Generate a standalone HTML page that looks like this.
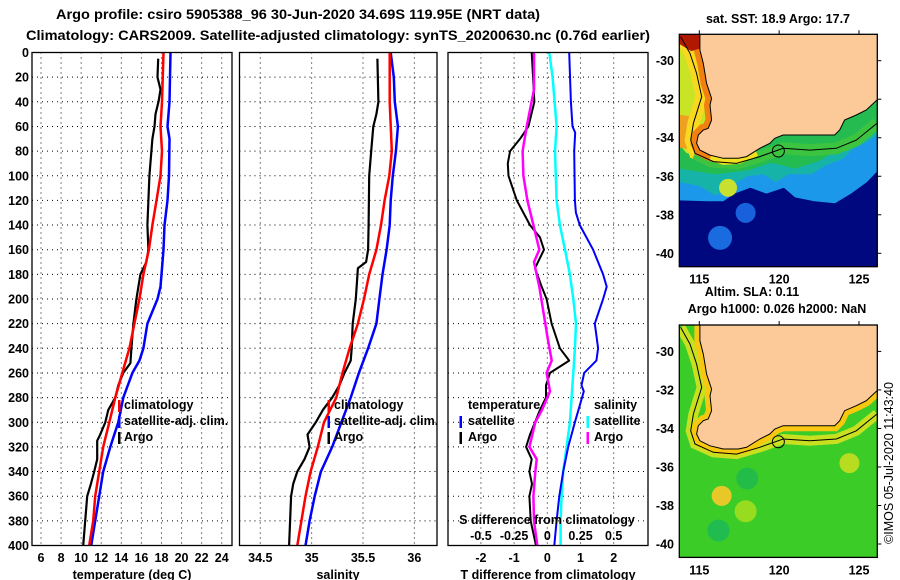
<!DOCTYPE html>
<html><head><meta charset="utf-8"><title>Argo profile</title>
<style>
html,body{margin:0;padding:0;background:#fff;}
svg{display:block;font-family:"Liberation Sans",Arial,sans-serif;}
.t{font-weight:bold;font-size:12.5px;fill:#000;}
.tt{font-weight:bold;font-size:14px;fill:#000;}
</style></head>
<body>
<svg id="fig" width="900" height="580" viewBox="0 0 900 580" xmlns="http://www.w3.org/2000/svg">
<text class="tt" x="56" y="19" textLength="484" lengthAdjust="spacingAndGlyphs">Argo profile: csiro 5905388_96 30-Jun-2020 34.69S 119.95E (NRT data)</text>
<text class="tt" x="26" y="40" textLength="624" lengthAdjust="spacingAndGlyphs">Climatology: CARS2009. Satellite-adjusted climatology: synTS_20200630.nc (0.76d earlier)</text>
<g id="plots"></g>
<g id="maps"></g>
<text x="0" y="0" transform="translate(893,463) rotate(-90)" text-anchor="middle" font-size="12.5">©IMOS 05-Jul-2020 11:43:40</text>
</svg>
<script>
// ---------- data ----------
const depthTicks = [0,20,40,60,80,100,120,140,160,180,200,220,240,260,280,300,320,340,360,380,400];
const tempTicks = [6,8,10,12,14,16,18,20,22,24];
const salTicks = [34.5,35,35.5,36];
const salTickLabels = ["34.5","35","35.5","36"];
const dtTicks = [-2,-1,0,1,2];
const dsTicks = [-0.5,-0.25,0,0.25,0.5];
const dsTickLabels = ["-0.5","-0.25","0","0.25","0.5"];

const argoTDepth = [5,20,30,40,50,60,70,80,90,100,120,140,160,170,180,200,220,240,252,260,270,280,290,300,310,315,330,340,350,360,380,400];
const argoT = [17.67,17.6,17.9,17.7,17.4,17.3,17.1,17.0,16.9,16.8,16.7,16.6,16.7,16.5,15.9,15.5,15.2,15.0,14.9,14.2,13.7,13.4,12.7,12.4,11.9,11.6,11.6,11.3,10.97,10.6,10.4,10.2];
const climTDepth = [0,40,60,80,100,120,140,160,180,200,220,240,260,280,300,320,340,360,380,400];
const climT = [18.2,18.05,17.9,18.05,17.9,17.5,17.1,16.75,16.2,15.8,15.3,14.8,14.1,13.4,12.8,12.2,11.8,11.4,11.2,10.8];
const satTDepth = [0,40,60,70,100,120,140,160,180,190,200,220,240,250,260,280,300,320,340,360,380,400];
const satT = [18.9,18.8,18.6,18.8,18.75,18.6,18.3,18.2,18.0,17.9,17.6,16.6,16.2,15.8,15.1,14.2,13.7,12.9,12.2,11.8,11.4,11.0];

const argoSDepth = [5,40,50,60,80,100,140,160,170,175,200,220,240,250,260,270,280,290,300,310,320,330,340,350,360,380,400];
const argoS = [35.64,35.65,35.63,35.60,35.58,35.56,35.555,35.55,35.53,35.45,35.43,35.40,35.39,35.38,35.32,35.27,35.2,35.11,35.04,34.96,34.98,34.93,34.86,34.82,34.80,34.79,34.78];
const climSDepth = [0,40,80,100,120,140,160,180,200,220,240,260,280,300,320,340,360,380,400];
const climS = [35.76,35.76,35.78,35.756,35.71,35.675,35.63,35.56,35.51,35.45,35.37,35.30,35.24,35.12,35.06,34.99,34.94,34.90,34.86];
const satSDepth = [0,20,40,60,80,100,120,140,160,180,200,220,240,260,280,300,320,340,360,380,400];
const satS = [35.77,35.80,35.81,35.84,35.82,35.79,35.77,35.76,35.73,35.69,35.66,35.63,35.55,35.46,35.38,35.29,35.2,35.09,35.03,34.98,34.94];

const dTArgoDepth = [0,40,60,70,80,90,100,120,140,150,160,175,190,200,220,240,250,260,270,280,290,300,310,320,330,340,350,360,380,400];
const dTArgo = [-0.47,-0.39,-0.57,-0.82,-1.12,-1.19,-1.17,-0.92,-0.52,-0.22,-0.10,-0.37,-0.17,-0.02,0.13,0.38,0.66,0.08,-0.04,-0.04,-0.22,-0.37,-0.52,-0.64,-0.47,-0.54,-0.46,-0.54,-0.5,-0.34];
const dSArgoDepth = [0,30,60,80,100,120,140,160,170,190,210,230,250,260,275,290,300,320,330,340,360,380,400];
const dSArgo = [-0.10,-0.10,-0.155,-0.186,-0.18,-0.15,-0.105,-0.06,-0.10,-0.06,-0.03,0,0.033,-0.005,0.02,-0.04,-0.09,-0.135,-0.08,-0.09,-0.105,-0.1,-0.075];
const dTSatDepth = [0,40,60,65,80,120,130,140,160,180,190,200,220,240,250,260,270,275,300,320,340,360,380,400];
const dTSat = [0.66,0.71,0.76,0.84,0.81,0.83,0.86,0.98,1.38,1.68,1.79,1.68,1.43,1.53,1.48,1.11,1.03,1.10,0.83,0.63,0.48,0.36,0.28,0.21];
const dSSatDepth = [0,20,60,80,120,140,160,180,200,220,240,260,280,300,320,340,360,380,400];
const dSSat = [0.015,0.04,0.07,0.058,0.07,0.095,0.133,0.17,0.196,0.216,0.208,0.196,0.183,0.17,0.145,0.12,0.108,0.1,0.1];

// map data (lon, lat)
const coastLon = [115.04,115.04,115.25,115.46,115.77,115.67,115.77,115.56,115.25,114.94,114.83,115.04,115.67,116.5,117.44,117.96,118.79,119.42,119.73,120.25,121.5,123.48,123.79,124.1,124.83,125.46,126.13];
const coastLat = [-28.6,-29.45,-30.14,-31.18,-31.96,-32.30,-33.08,-33.51,-33.60,-33.86,-34.29,-34.64,-34.90,-35.07,-35.07,-34.98,-34.55,-34.29,-34.03,-33.86,-33.86,-33.86,-33.6,-33.08,-32.82,-32.56,-32.04];
const isoLon = [113.83,114.42,114.83,115.15,114.63,114.46,114.73,115.88,117.33,118.79,120.25,121.92,123.58,124.83,126.13];
const isoLat = [-28.75,-29.62,-30.66,-31.87,-33.25,-34.12,-34.81,-35.24,-35.33,-34.98,-34.55,-34.64,-34.55,-34.12,-33.25];
const floatLon = 119.95, floatLat = -34.69;
const lonTicks = [115,120,125];
const latTicks = [-30,-32,-34,-36,-38,-40];

// ---------- helpers ----------
const NS = "http://www.w3.org/2000/svg";
function mk(tag, attrs, parent, name, inter){
  const el = document.createElementNS(NS, tag);
  for (const k in attrs) el.setAttribute(k, attrs[k]);
  
  
  parent.appendChild(el);
  return el;
}
function txt(x,y,s,parent,name,anchor,cls){
  const el = mk('text',{x:x,y:y,'text-anchor':anchor||'start','class':cls||'t'},parent,name,false);
  el.textContent = s;
  return el;
}
const plots = document.getElementById('plots');
const TOP = 52.5, BOT = 545.5;
const yD = d => TOP + d*(BOT-TOP)/400;
const xT = t => 41 + (t-6)*10.04;
const xS = s => 260.3 + (s-34.5)*102.7;
const xDT = v => 547.3 + v*33.2;
const xDS = v => xDT(v*4);

function panel(x0,x1,vx,vTicks,name){
  const g = mk('g',{},plots,name,false);
  for (const d of depthTicks){ if(d===0||d===400) continue;
    mk('line',{x1:x0,x2:x1,y1:yD(d),y2:yD(d),stroke:'#000','stroke-width':1,'stroke-dasharray':'1,4'},g,'grid-h',false); }
  for (const v of vTicks){
    mk('line',{x1:vx(v),x2:vx(v),y1:TOP,y2:BOT,stroke:'#000','stroke-width':1,'stroke-dasharray':'1,4'},g,'grid-v',false); }
  return g;
}
function line(g,xs,ds,xf,color,w,name){
  const pts = xs.map((v,i)=>xf(v).toFixed(1)+','+yD(ds[i]).toFixed(1)).join(' ');
  mk('polyline',{points:pts,fill:'none',stroke:color,'stroke-width':w,'stroke-linejoin':'round'},g,name,false);
}
function frame(g,x0,x1,name){
  mk('rect',{x:x0,y:TOP,width:x1-x0,height:BOT-TOP,fill:'none',stroke:'#000','stroke-width':1.3},g,name,false);
}
function mark(g,x,y,color,name){
  mk('rect',{x:x,y:y,width:2.5,height:12,fill:color},g,name,false);
}

// ---------- panel 1 temperature ----------
const g1 = panel(32,232,xT,tempTicks,'temperature-panel');
line(g1,argoT,argoTDepth,xT,'#000',2.2,'argo-temperature-line');
line(g1,satT,satTDepth,xT,'#0000ff',2.5,'satellite-temperature-line');
line(g1,climT,climTDepth,xT,'#ff0000',2.5,'climatology-temperature-line');
frame(g1,32,232,'temperature-frame');
for (const d of depthTicks) txt(29,yD(d)+4.5,String(d),g1,'depth-tick-label','end');
for (const t of tempTicks) txt(xT(t),562,String(t),g1,'temperature-tick-label','middle');
txt(132,579,'temperature (deg C)',g1,'temperature-axis-title','middle');
mark(g1,118,400,'#ff0000','legend-climatology-mark');
txt(124,409,'climatology',g1,'legend-climatology');
mark(g1,118,416,'#0000ff','legend-satellite-mark');
txt(124,425,'satellite-adj. clim.',g1,'legend-satellite');
mark(g1,118,432,'#000','legend-argo-mark');
txt(124,441,'Argo',g1,'legend-argo');

// ---------- panel 2 salinity ----------
const g2 = panel(239.5,437,xS,salTicks,'salinity-panel');
line(g2,argoS,argoSDepth,xS,'#000',2.2,'argo-salinity-line');
line(g2,satS,satSDepth,xS,'#0000ff',2.5,'satellite-salinity-line');
line(g2,climS,climSDepth,xS,'#ff0000',2.5,'climatology-salinity-line');
frame(g2,239.5,437,'salinity-frame');
salTicks.forEach((s,i)=>txt(xS(s),562,salTickLabels[i],g2,'salinity-tick-label','middle'));
txt(338,579,'salinity',g2,'salinity-axis-title','middle');
mark(g2,327.5,400,'#ff0000','legend-climatology-mark');
txt(334,409,'climatology',g2,'legend-climatology');
mark(g2,327.5,416,'#0000ff','legend-satellite-mark');
txt(334,425,'satellite-adj. clim.',g2,'legend-satellite');
mark(g2,327.5,432,'#000','legend-argo-mark');
txt(334,441,'Argo',g2,'legend-argo');

// ---------- panel 3 differences ----------
const g3 = panel(448,648,xDT,dtTicks,'difference-panel');
line(g3,dTArgo,dTArgoDepth,xDT,'#000',2,'argo-temperature-difference-line');
line(g3,dSArgo,dSArgoDepth,xDS,'#ff00ff',2.5,'argo-salinity-difference-line');
line(g3,dSSat,dSSatDepth,xDS,'#00ffff',2.5,'satellite-salinity-difference-line');
line(g3,dTSat,dTSatDepth,xDT,'#0000ff',2,'satellite-temperature-difference-line');
frame(g3,448,648,'difference-frame');
for (const t of dtTicks) txt(xDT(t),562,String(t),g3,'t-difference-tick-label','middle');
txt(548,579,'T difference from climatology',g3,'t-difference-axis-title','middle');
txt(547,524,'S difference from climatology',g3,'s-difference-axis-title','middle');
dsTicks.forEach((s,i)=>txt(xDS(s),540,dsTickLabels[i],g3,'s-difference-tick-label','middle'));
txt(468,409,'temperature',g3,'legend-temperature-header');
mark(g3,459.5,416,'#0000ff','legend-t-satellite-mark');
txt(468,425,'satellite',g3,'legend-t-satellite');
mark(g3,459.5,432,'#000','legend-t-argo-mark');
txt(468,441,'Argo',g3,'legend-t-argo');
txt(594,409,'salinity',g3,'legend-salinity-header');
mark(g3,586.5,416,'#00ffff','legend-s-satellite-mark');
txt(594,425,'satellite',g3,'legend-s-satellite');
mark(g3,586.5,432,'#ff00ff','legend-s-argo-mark');
txt(594,441,'Argo',g3,'legend-s-argo');

// ---------- maps ----------
const maps = document.getElementById('maps');
const MX0 = 679.3, MX1 = 877.3, MH = 232.4;
const lonX = lon => 699.3 + (lon-115)*15.97;
function latY(top){ return lat => top + 26.4 + (-30-lat)*19.26; }
function P(lons,lats,yf){ return lons.map((l,i)=>lonX(l).toFixed(1)+','+yf(lats[i]).toFixed(1)).join(' '); }
function ll(arr,yf){ return arr.map(p=>lonX(p[0]).toFixed(1)+','+yf(p[1]).toFixed(1)).join(' '); }

function drawMap(top, kind, name){
  const yf = latY(top);
  const g = mk('g',{},maps,name,false);
  const cid = 'clip'+kind;
  const cp = mk('clipPath',{id:cid},g,'map-clip',false);
  mk('rect',{x:MX0,y:top,width:MX1-MX0,height:MH},cp,'map-clip-rect',false);
  const c = mk('g',{'clip-path':'url(#'+cid+')'},g,'map-content',false);
  const coastPts = P(coastLon,coastLat,yf);
  const landPts = coastPts+' '+lonX(127).toFixed(1)+','+yf(-31.9).toFixed(1)+' '+lonX(127)+','+(top-5)+' '+lonX(115.04)+','+(top-5);
  const westIso = P(isoLon.slice(0,8),isoLat.slice(0,8),yf);
  const southIso = P(isoLon.slice(6),isoLat.slice(6),yf);
  if (kind==='sst'){
    mk('rect',{x:MX0,y:top,width:MX1-MX0,height:MH,fill:'#00087f'},c,'sst-deep-ocean',false);
    mk('circle',{cx:lonX(116.3),cy:yf(-39.2),r:12,fill:'#1a6ae0'},c,'sst-eddy-1',false);
    mk('circle',{cx:lonX(117.9),cy:yf(-37.9),r:10,fill:'#1860dc'},c,'sst-eddy-2',false);
    mk('polygon',{points:ll([[113.7,-37.25],[115.5,-37.3],[116.5,-37.3],[117.2,-36.9],[118.2,-36.6],[119.2,-36.9],[120.3,-36.6],[121,-37.1],[122.2,-37.3],[123.5,-37.4],[124.5,-36.9],[125.5,-36.3],[126.3,-35.6],[126.3,-28],[113.7,-28]],yf),fill:'#1c98ea'},c,'sst-light-blue-zone',false);
    mk('polygon',{points:ll([[113.7,-36.3],[115,-36.5],[116,-37],[117.2,-36.4],[118,-36.0],[119,-35.9],[119.8,-36.3],[120.6,-35.9],[122,-35.9],[123,-35.4],[124,-35.1],[124.6,-34.6],[125.5,-34.2],[126.3,-33.8],[126.3,-28],[113.7,-28]],yf),fill:'#16b4a8'},c,'sst-cyan-zone',false);
    mk('polygon',{points:ll([[113.7,-35.6],[116,-35.9],[118,-35.7],[119.5,-35.3],[121,-35.6],[122.5,-35.2],[123.5,-34.7],[125,-34.2],[126.3,-33.5],[126.3,-28],[113.7,-28]],yf),fill:'#24bc50'},c,'sst-green-zone',false);
    mk('circle',{cx:lonX(116.8),cy:yf(-36.6),r:9,fill:'#c8e030'},c,'sst-warm-blob',false);
    mk('polygon',{points:ll([[113.7,-28],[115.2,-28],[115.5,-33],[115,-34.9],[114.2,-34.8],[113.7,-34.3]],yf),fill:'#c8e424'},c,'sst-west-zone',false);
    mk('polygon',{points:ll([[113.7,-32.8],[114.6,-32.9],[114.4,-34.6],[113.7,-34.5]],yf),fill:'#f0a020'},c,'sst-west-orange-patch',false);
    mk('polyline',{points:westIso,fill:'none',stroke:'#f8d820','stroke-width':12},c,'sst-west-coastal-band',false);
    mk('polyline',{points:southIso,fill:'none',stroke:'#3cc440','stroke-width':12},c,'sst-south-coastal-band',false);
    mk('polyline',{points:P(coastLon.slice(0,14),coastLat.slice(0,14),yf),fill:'none',stroke:'#f08010','stroke-width':12},c,'sst-coastal-warm-band',false);
    mk('polyline',{points:ll([[115.7,-35.0],[116.5,-35.25],[117.5,-35.2],[118.6,-34.8]],yf),fill:'none',stroke:'#f0e020','stroke-width':6},c,'sst-south-yellow-band',false);
    mk('polygon',{points:ll([[113.7,-28],[115.2,-28],[115.3,-29.3],[114.5,-29.5],[113.7,-29.1]],yf),fill:'#b01800'},c,'sst-red-corner',false);
  } else {
    mk('rect',{x:MX0,y:top,width:MX1-MX0,height:MH,fill:'#3ccc28'},c,'sla-background',false);
    mk('circle',{cx:lonX(116.4),cy:yf(-37.5),r:10,fill:'#e8c828'},c,'sla-high-blob',false);
    mk('circle',{cx:lonX(117.9),cy:yf(-38.3),r:11,fill:'#98dc20'},c,'sla-mid-blob',false);
    mk('circle',{cx:lonX(124.4),cy:yf(-35.8),r:10,fill:'#b8dc20'},c,'sla-east-blob',false);
    mk('circle',{cx:lonX(116.2),cy:yf(-39.3),r:11,fill:'#20bc50'},c,'sla-low-blob',false);
    mk('circle',{cx:lonX(118),cy:yf(-36.6),r:11,fill:'#24bc48'},c,'sla-low-blob-2',false);
    mk('polyline',{points:P(isoLon,isoLat,yf),fill:'none',stroke:'#c8e020','stroke-width':10},c,'sla-coastal-band',false);
    mk('polyline',{points:coastPts,fill:'none',stroke:'#f8c810','stroke-width':11},c,'sla-coastal-high-band',false);
  }
  mk('polygon',{points:landPts,fill:'#fcc999'},c,'land',false);
  mk('polyline',{points:coastPts,fill:'none',stroke:'#000','stroke-width':1},c,'coastline',false);
  mk('polyline',{points:P(isoLon,isoLat,yf),fill:'none',stroke:'#000','stroke-width':1},c,'isobath-line',false);
  mk('circle',{cx:lonX(floatLon),cy:yf(floatLat),r:6,fill:'none',stroke:'#000','stroke-width':1},c,'argo-float-location',false);
  mk('rect',{x:MX0,y:top,width:MX1-MX0,height:MH,fill:'none',stroke:'#000','stroke-width':1.3},g,'map-frame',false);
  for (const lon of lonTicks){
    mk('line',{x1:lonX(lon),x2:lonX(lon),y1:top,y2:top-4,stroke:'#000'},g,'lon-tick',false);
    txt(lonX(lon),top+MH+17,String(lon),g,'lon-tick-label','middle');
  }
  for (const lat of latTicks){
    mk('line',{x1:MX1,x2:MX1+4,y1:yf(lat),y2:yf(lat),stroke:'#000'},g,'lat-tick',false);
    txt(674,yf(lat)+4.5,String(lat),g,'lat-tick-label','end');
  }
}
drawMap(34.3,'sst','sst-map');
drawMap(325,'sla','sla-map');
txt(778,23,'sat. SST: 18.9 Argo: 17.7',maps,'sst-map-title','middle');
txt(752,296,'Altim. SLA: 0.11',maps,'sla-map-title','middle');
txt(777,313,'Argo h1000: 0.026 h2000: NaN',maps,'argo-height-title','middle');
</script>
</body></html>
